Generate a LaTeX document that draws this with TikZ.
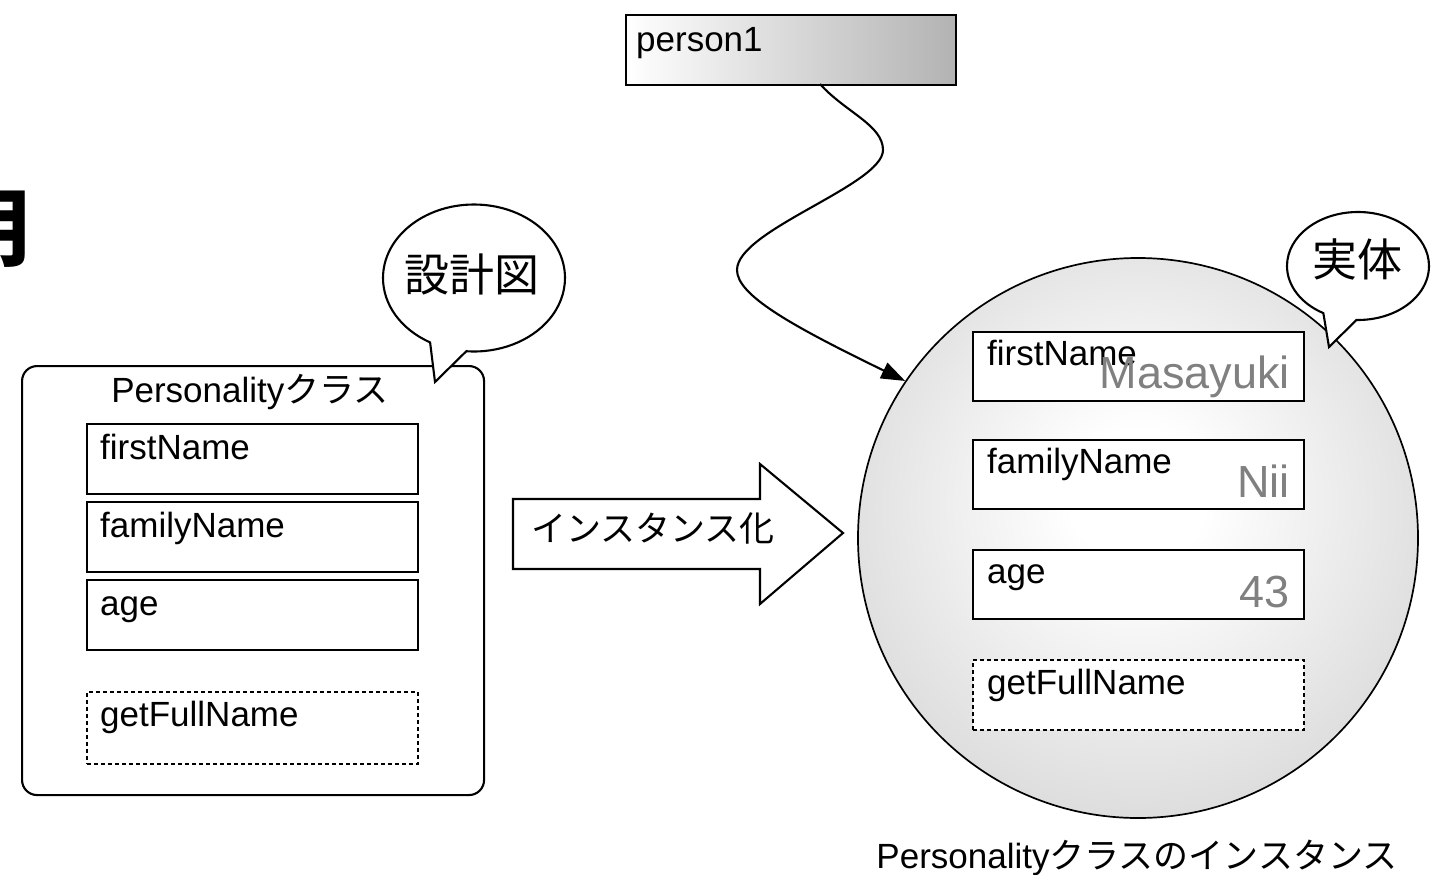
\documentclass[tikz,border=0pt]{standalone}
\usepackage{fontspec}
\setmainfont{Liberation Sans}
\newfontfamily\jp{Noto Sans CJK JP}
\usetikzlibrary{arrows.meta,shapes.callouts,shapes.geometric}
\definecolor{valgray}{gray}{0.5}
\pgfdeclareradialshading{ballshade}{\pgfpoint{0bp}{4bp}}{color(0bp)=(white); color(6bp)=(white); color(50bp)=(black!27); color(75bp)=(black!27)}
\begin{document}
\begin{tikzpicture}[x=1pt,y=-1pt,
  lw/.style={line width=2.1pt},
  fieldbox/.style={draw, line width=2pt, inner sep=0, anchor=north west, minimum width=331pt},
  methodbox/.style={fieldbox, line width=1.8pt, dash pattern=on 4pt off 3pt},
  lbl/.style={inner sep=0, anchor=base west, font=\fontsize{35}{40}\selectfont},
  val/.style={inner sep=0, anchor=base east, text=valgray, font=\fontsize{45}{50}\selectfont},
  bubble/.style={ellipse callout, draw, lw, fill=white, inner sep=0, callout pointer arc=24},
  jplbl/.style={inner sep=0, font=\jp\fontsize{45}{50}\selectfont}]
\useasboundingbox (0,0) rectangle (1435,875);

% partial title glyph at the left edge
\node[inner sep=0, anchor=base west, font=\jp\bfseries\fontsize{84}{90}\selectfont] (ttl) at (-55,259) {明};

% class box
\node[draw, lw, rounded corners=15pt, minimum width=462pt, minimum height=429pt, anchor=north west, inner sep=0] (cls) at (21,365) {};
\node[inner sep=0, anchor=base, font=\fontsize{35}{40}\selectfont] (clst) at (250,402) {Personality{\jp クラス}};
\node[fieldbox, minimum height=70pt] (lf1) at (86,423) {};
\node[fieldbox, minimum height=70pt] (lf2) at (86,501) {};
\node[fieldbox, minimum height=70pt] (lf3) at (86,579) {};
\node[methodbox, minimum height=72pt] (lf4) at (86,691) {};
\node[lbl] (lf1t) at (100,459) {firstName};
\node[lbl] (lf2t) at (100,537) {familyName};
\node[lbl] (lf3t) at (100,615) {age};
\node[lbl] (lf4t) at (100,726) {getFullName};

% bubble 設計図
\node[bubble, minimum width=182pt, minimum height=147pt, callout absolute pointer={(435,382)}] (b1) at (474,278) {};
\node[jplbl] (b1t) at (472,274) {設計図};

% block arrow
\draw[lw, fill=white] (513,499) -- (760,499) -- (760,464) -- (843,533) -- (760,604) -- (760,569) -- (513,569) -- cycle;
\node[inner sep=0, anchor=west, font=\jp\fontsize{35}{40}\selectfont] (art) at (531,528) {インスタンス化};

% instance circle
\node[circle, draw, line width=1.7pt, shade, shading=ballshade, minimum size=560pt, inner sep=0] (inst) at (1138,538) {};
\node[fieldbox, fill=white, minimum height=69pt] (rf1) at (972,331) {};
\node[fieldbox, fill=white, minimum height=69pt] (rf2) at (972,439) {};
\node[fieldbox, fill=white, minimum height=69pt] (rf3) at (972,549) {};
\node[methodbox, fill=white, minimum height=70pt] (rf4) at (972,659) {};
\node[lbl] (rf1t) at (987,365) {firstName};
\node[val] (rf1v) at (1290,388) {Masayuki};
\node[lbl] (rf2t) at (987,473) {familyName};
\node[val] (rf2v) at (1290,497) {Nii};
\node[lbl] (rf3t) at (987,583) {age};
\node[val] (rf3v) at (1290,607) {43};
\node[lbl] (rf4t) at (987,694) {getFullName};
\node[inner sep=0, anchor=base, font=\fontsize{35}{40}\selectfont] (instt) at (1137,868) {Personality{\jp クラスのインスタンス}};

% bubble 実体
\node[bubble, minimum width=142pt, minimum height=108pt, callout absolute pointer={(1329,347)}, callout pointer arc=28] (b2) at (1358,266) {};
\node[jplbl] (b2t) at (1357,259) {実体};

% person1 variable
\node[draw, lw, left color=white, right color=black!30, minimum width=330pt, minimum height=70pt, anchor=north west, inner sep=0] (p1) at (625,14) {};
\node[inner sep=0, anchor=base west, font=\fontsize{35}{40}\selectfont] (p1t) at (636,52) {person1};
\coordinate (cs) at (820,84);
\draw[lw, -{Triangle[length=24pt,width=17pt]}] (cs) .. controls (845,112) and (883,125) .. (883,150)
  .. controls (883,185) and (737,230) .. (737,270)
  .. controls (737,295) and (790,325) .. (inst.146);
\end{tikzpicture}
\end{document}
